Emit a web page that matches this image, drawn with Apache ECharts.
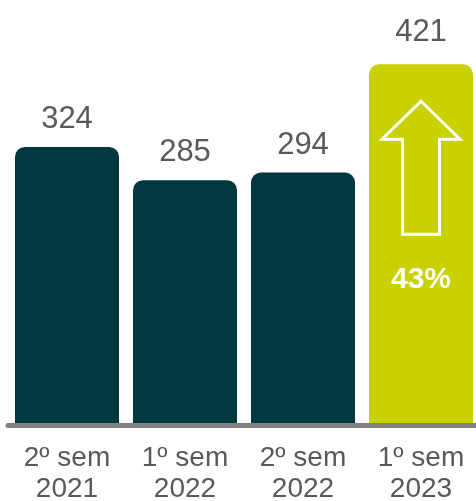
<!DOCTYPE html>
<html lang="pt">

<head>
    <meta charset="UTF-8">
    <title>Semestres</title>
    <script src="https://cdn.jsdelivr.net/npm/echarts@6/dist/echarts.min.js"></script>
    <style>
        html, body { margin: 0; padding: 0; background: #fff; }
        #main { width: 476px; height: 501px; }
    </style>
</head>

<body>
    <div id="main"></div>
    <script type="text/javascript">
        // dados
        var categorias = ['2º sem\n2021', '1º sem\n2022', '2º sem\n2022', '1º sem\n2023'];
        var valores = [324, 285, 294, 421];
        var variacao = '43%';

        var corEscura = '#02373f';
        var corDestaque = '#c9d200';
        var fonte = '"Liberation Sans", Arial, sans-serif';

        var myChart = echarts.init(document.getElementById('main'));

        var dadosBarras = valores.map(function (v, i) {
            var ultimo = i === valores.length - 1;
            return {
                value: v,
                itemStyle: { color: ultimo ? corDestaque : corEscura },
                label: { distance: ultimo ? 16 : 12 }
            };
        });

        var option = {
            animation: false,
            grid: { left: 8, width: 472, top: 14, bottom: 75.5, outerBoundsMode: 'none', containLabel: false },
            xAxis: {
                type: 'category',
                data: categorias,
                axisLine: { onZero: false, lineStyle: { color: '#808080', width: 5 } },
                axisTick: { show: false },
                axisLabel: {
                    margin: 17,
                    color: '#595959',
                    fontSize: 28,
                    lineHeight: 31,
                    fontFamily: fonte,
                    interval: 0
                }
            },
            yAxis: {
                type: 'value',
                min: -3,
                max: 480,
                show: false,
                splitLine: { show: false }
            },
            series: [{
                type: 'bar',
                data: dadosBarras,
                barWidth: 104,
                itemStyle: { borderRadius: [10, 10, 0, 0] },
                label: {
                    show: true,
                    position: 'top',
                    color: '#595959',
                    fontSize: 31,
                    lineHeight: 31,
                    fontFamily: fonte
                }
            }]
        };
        myChart.setOption(option);

        // seta e percentual dentro da última barra
        var ult = valores.length - 1;
        var topo = myChart.convertToPixel({ xAxisIndex: 0, yAxisIndex: 0 }, [ult, valores[ult]]);
        var cx = topo[0], ty = topo[1];
        myChart.setOption({
            graphic: [{
                type: 'polygon',
                shape: {
                    points: [
                        [cx, ty + 37],
                        [cx + 39, ty + 75],
                        [cx + 18.5, ty + 75],
                        [cx + 18.5, ty + 170],
                        [cx - 18.5, ty + 170],
                        [cx - 18.5, ty + 75],
                        [cx - 39, ty + 75]
                    ]
                },
                style: { fill: 'none', stroke: '#fff', lineWidth: 3 },
                z: 10
            }, {
                type: 'text',
                x: cx,
                y: ty + 215,
                style: {
                    text: variacao,
                    fill: '#fff',
                    font: 'bold 30px ' + fonte,
                    textAlign: 'center',
                    textVerticalAlign: 'middle'
                },
                z: 10
            }]
        });
    </script>
</body>

</html>
